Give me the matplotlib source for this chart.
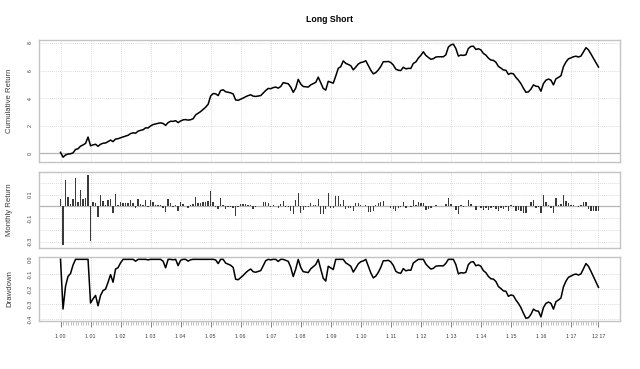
import numpy as np
import matplotlib
matplotlib.use('Agg')
import matplotlib.pyplot as plt

plt.rcParams['font.family'] = ['Liberation Sans', 'DejaVu Sans']

title = "Long Short"
years = list(range(2000, 2018))

# cumulative return at each month end (Jan .. Dec)
cum_2000 = [0.06, -0.29, -0.13, -0.06, -0.04, 0.02, 0.27, 0.32, 0.51, 0.60, 0.71, 1.17]
cum_2001 = [0.54, 0.60, 0.65, 0.50, 0.65, 0.72, 0.74, 0.84, 0.95, 0.84, 1.03, 1.05]
cum_2002 = [1.12, 1.18, 1.24, 1.30, 1.42, 1.48, 1.45, 1.60, 1.66, 1.70, 1.84, 1.83]
cum_2003 = [1.98, 2.08, 2.12, 2.17, 2.20, 2.16, 2.02, 2.22, 2.32, 2.31, 2.36, 2.22]
cum_2004 = [2.34, 2.42, 2.44, 2.40, 2.43, 2.50, 2.78, 2.90, 3.02, 3.18, 3.34, 3.55]
cum_2005 = [4.15, 4.33, 4.31, 4.18, 4.55, 4.60, 4.46, 4.42, 4.38, 4.30, 3.86, 3.84]
cum_2006 = [3.92, 4.00, 4.10, 4.18, 4.24, 4.14, 4.12, 4.15, 4.18, 4.36, 4.55, 4.70]
cum_2007 = [4.68, 4.76, 4.80, 4.72, 4.84, 5.12, 5.08, 5.04, 4.80, 4.42, 4.72, 5.36]
cum_2008 = [5.02, 4.84, 4.82, 4.80, 4.96, 5.05, 5.14, 5.52, 5.10, 4.70, 4.58, 5.22]
cum_2009 = [5.15, 5.08, 5.60, 6.16, 6.28, 6.70, 6.52, 6.44, 6.35, 6.05, 6.25, 6.47]
cum_2010 = [6.58, 6.62, 6.71, 6.36, 6.02, 5.76, 5.85, 6.04, 6.30, 6.64, 6.64, 6.66]
cum_2011 = [6.58, 6.40, 6.10, 6.02, 6.00, 6.24, 6.12, 6.16, 6.15, 6.52, 6.62, 6.90]
cum_2012 = [7.10, 7.36, 7.10, 6.95, 6.82, 6.86, 6.98, 7.00, 7.00, 7.00, 7.14, 7.70]
cum_2013 = [7.86, 7.91, 7.60, 7.05, 7.12, 7.10, 7.14, 7.60, 7.75, 7.77, 7.53, 7.58]
cum_2014 = [7.50, 7.24, 7.12, 6.90, 6.76, 6.74, 6.60, 6.30, 6.18, 6.04, 6.02, 5.72]
cum_2015 = [5.80, 5.76, 5.50, 5.30, 5.05, 4.72, 4.42, 4.45, 4.65, 4.96, 4.86, 4.84]
cum_2016 = [4.50, 5.05, 5.30, 5.38, 5.30, 4.96, 5.40, 5.50, 5.62, 6.28, 6.62, 6.85]
cum_2017 = [6.92, 7.00, 7.04, 6.98, 7.05, 7.36, 7.66, 7.50, 7.20, 6.88, 6.55, 6.25]

cum_return = np.array(cum_2000 + cum_2001 + cum_2002 + cum_2003 + cum_2004 + cum_2005
                      + cum_2006 + cum_2007 + cum_2008 + cum_2009 + cum_2010 + cum_2011
                      + cum_2012 + cum_2013 + cum_2014 + cum_2015 + cum_2016 + cum_2017)

x_labels = ["1 %02d" % (y % 100) for y in years] + ["12 17"]

# monthly returns and drawdown follow from the wealth index
wealth = 1 + cum_return
prev = np.concatenate([[1.0], wealth[:-1]])
monthly_ret = wealth / prev - 1
peak = np.maximum.accumulate(np.concatenate([[1.0], wealth]))[1:]
drawdown = wealth / peak - 1

n = len(cum_return)
x = np.arange(n)
label_pos = [12 * i for i in range(len(years))] + [n - 1]

W, H = 640, 369
fig = plt.figure(figsize=(W / 100, H / 100), dpi=100)
fig.patch.set_facecolor('white')

def box(top, bottom):
    return [39 / W, 1 - bottom / H, (620 - 39) / W, (bottom - top) / H]

ax1 = fig.add_axes(box(39.7, 161.7))
ax2 = fig.add_axes(box(172, 248))
ax3 = fig.add_axes(box(257, 320.6))

frame_col = '#c4c4c4'
grid_col = '#cfcfcf'
text_col = '#3c3c3c'

def expand(lo, hi):
    pad = (hi - lo) * 0.04
    return lo - pad, hi + pad

for ax in (ax1, ax2, ax3):
    ax.set_xlim(*expand(0, n - 1))
    for s in ax.spines.values():
        s.set_color(frame_col)
        s.set_linewidth(1.0)
    for p in label_pos:
        ax.axvline(p, color=grid_col, ls=(0, (1, 1.5)), lw=0.6, zorder=0)
    ax.tick_params(axis='y', length=0, pad=6, labelsize=3.8, labelcolor=text_col)
    for t in ax.get_yticklabels():
        pass

# cumulative return
ax1.set_ylim(*expand(cum_return.min(), cum_return.max()))
ax1.set_yticks([0, 2, 4, 6, 8])
ax1.set_yticklabels(['0', '2', '4', '6', '8'])
for v in [2, 4, 6, 8]:
    ax1.axhline(v, color=grid_col, ls=(0, (1, 1.5)), lw=0.6, zorder=0)
ax1.axhline(0, color='#b4b4b4', lw=0.9, zorder=1)
ax1.plot(x, cum_return, color='black', lw=1.1, zorder=3)
ax1.set_xticks([])

# monthly return bars
ax2.set_ylim(*expand(monthly_ret.min(), monthly_ret.max()))
ax2.set_yticks([0.1, -0.1, -0.3])
ax2.set_yticklabels(['0.1', '-0.1', '-0.3'])
for v in [0.2, 0.1, -0.1, -0.2, -0.3]:
    ax2.axhline(v, color=grid_col, ls=(0, (1, 1.5)), lw=0.6, zorder=0)
ax2.axhline(0, color='#b4b4b4', lw=0.9, zorder=1)
ax2.bar(x, monthly_ret, width=0.55, color='#3a3a3a', linewidth=0, zorder=3)
ax2.set_xticks([])

# drawdown
ax3.set_ylim(*expand(drawdown.min(), 0))
dd_ticks = [0.0, -0.1, -0.2, -0.3, -0.4]
ax3.set_yticks(dd_ticks)
ax3.set_yticklabels(['%.1f' % v for v in dd_ticks])
for v in dd_ticks[1:]:
    ax3.axhline(v, color=grid_col, ls=(0, (1, 1.5)), lw=0.6, zorder=0)
ax3.plot(x, drawdown, color='black', lw=1.1, zorder=3)
ax3.set_xticks(label_pos)
ax3.set_xticklabels(x_labels)
ax3.set_xticks(x, minor=True)
ax3.tick_params(axis='x', which='major', length=4, width=0.6, color='#707070',
                pad=6, labelsize=3.8, labelcolor=text_col)
ax3.tick_params(axis='x', which='minor', length=3, width=0.4, color='#909090')

for ax in (ax1, ax2, ax3):
    for t in ax.get_yticklabels():
        t.set_rotation(90)
        t.set_va('center')
        t.set_ha('center')

ylabels = [('Cumulative Return', ax1), ('Monthly Return', ax2), ('Drawdown', ax3)]
for txt, ax in ylabels:
    b = ax.get_position()
    fig.text(10 / W, b.y0 + b.height / 2, txt, rotation=90, ha='center', va='center',
             fontsize=5.6, color=text_col)

fig.text(329.5 / W, 1 - 20 / H, title, ha='center', va='center', fontsize=6.3,
         fontweight='bold', color='black')

fig.savefig('out.png', dpi=100, facecolor='white')
